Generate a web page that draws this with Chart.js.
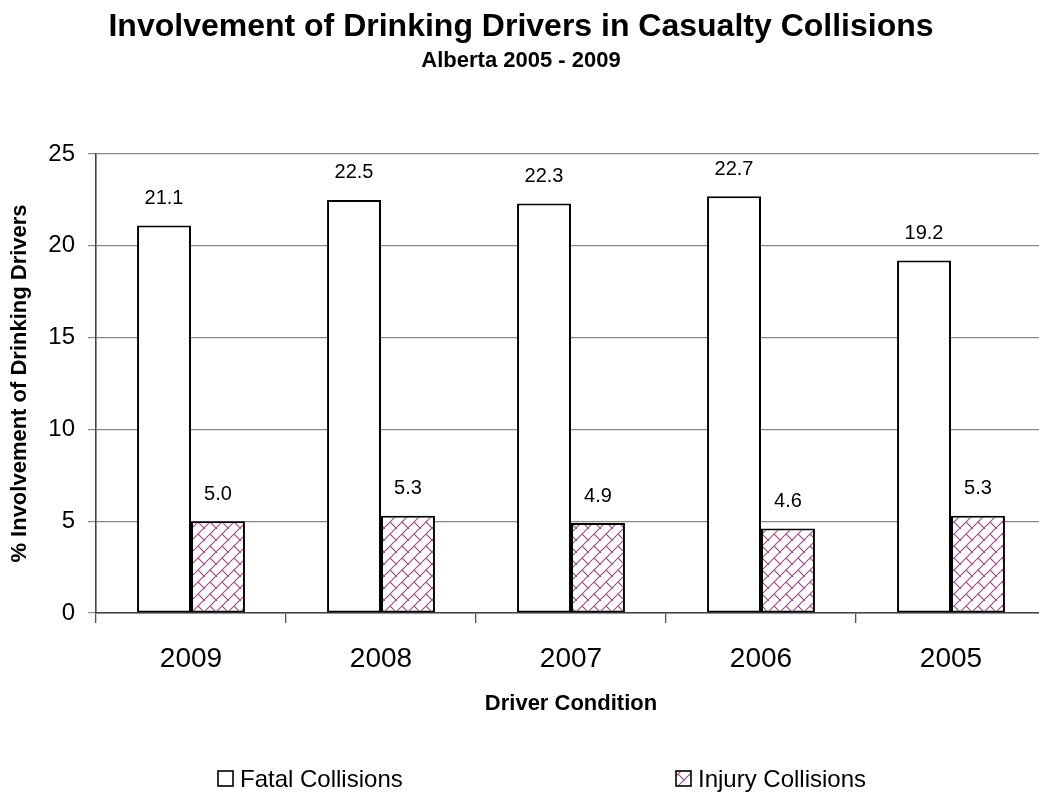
<!DOCTYPE html>
<html>
<head>
<meta charset="utf-8">
<title>Involvement of Drinking Drivers in Casualty Collisions</title>
<script src="https://cdn.jsdelivr.net/npm/chart.js@4.4.1/dist/chart.umd.min.js"></script>
<style>
  html, body { margin: 0; padding: 0; background: #fff; overflow: hidden; }
  #wrap { position: relative; width: 1060px; height: 798px; }
</style>
</head>
<body>
<div id="wrap"><canvas id="chart" width="1060" height="798"></canvas></div>
<script>
// Alberta collision data, 2005 - 2009
const years = ['2009', '2008', '2007', '2006', '2005'];
const fatalCollisions = [21.1, 22.5, 22.3, 22.7, 19.2];
const injuryCollisions = [5.0, 5.3, 4.9, 4.6, 5.3];
const seriesNames = ['Fatal Collisions', 'Injury Collisions'];
const yTicks = [0, 5, 10, 15, 20, 25];

const FONT = '"Liberation Sans", Arial, Helvetica, sans-serif';
const HATCH = '#a04a86';

// Diagonal brick hatch used for the injury series
function brickPattern() {
  const n = 12;
  const c = document.createElement('canvas');
  c.width = n; c.height = n;
  const g = c.getContext('2d');
  g.fillStyle = '#ffffff';
  g.fillRect(0, 0, n, n);
  g.strokeStyle = HATCH;
  g.lineWidth = 1.1;
  g.lineCap = 'square';
  g.beginPath();
  g.moveTo(-1, n + 1); g.lineTo(n + 1, -1);
  g.moveTo(n / 2, n / 2); g.lineTo(n + 1, n + 1);
  g.moveTo(-1, -1); g.lineTo(0.5, 0.5);
  g.stroke();
  return g.createPattern(c, 'repeat');
}

const ctx = document.getElementById('chart').getContext('2d');
const hatch = brickPattern();

// Value labels above each bar
const valueLabels = {
  id: 'valueLabels',
  afterDatasetsDraw(chart) {
    const c = chart.ctx;
    c.save();
    c.font = '20px ' + FONT;
    c.fillStyle = '#000';
    c.textAlign = 'center';
    c.textBaseline = 'middle';
    chart.data.datasets.forEach((ds, i) => {
      const meta = chart.getDatasetMeta(i);
      meta.data.forEach((bar, j) => {
        c.fillText(Number(ds.data[j]).toFixed(1), bar.x, bar.y - 27);
      });
    });
    c.restore();
  }
};

// Headings and the two-item legend
const headings = {
  id: 'headings',
  afterDraw(chart) {
    const c = chart.ctx;
    c.save();
    c.fillStyle = '#000';
    c.textAlign = 'center';
    c.textBaseline = 'alphabetic';
    c.font = 'bold 32px ' + FONT;
    c.fillText('Involvement of Drinking Drivers in Casualty Collisions', 521, 36);
    c.font = 'bold 22px ' + FONT;
    c.fillText('Alberta 2005 - 2009', 521, 67);

    const items = [
      { x: 218, fill: '#ffffff', label: seriesNames[0] },
      { x: 676, fill: hatch, label: seriesNames[1] }
    ];
    c.font = '24px ' + FONT;
    c.textAlign = 'left';
    items.forEach(it => {
      c.fillStyle = it.fill;
      c.fillRect(it.x, 771, 15, 15);
      c.strokeStyle = '#000';
      c.lineWidth = 1.6;
      c.strokeRect(it.x, 771, 15, 15);
      c.fillStyle = '#000';
      c.fillText(it.label, it.x + 22, 787);
    });
    c.restore();
  }
};

new Chart(ctx, {
  type: 'bar',
  data: {
    labels: years,
    datasets: [
      {
        label: seriesNames[0],
        data: fatalCollisions,
        backgroundColor: '#ffffff',
        borderColor: '#000000',
        borderWidth: 2,
        borderSkipped: false,
        categoryPercentage: 0.568,
        barPercentage: 1.0
      },
      {
        label: seriesNames[1],
        data: injuryCollisions,
        backgroundColor: hatch,
        borderColor: '#000000',
        borderWidth: 2,
        borderSkipped: false,
        categoryPercentage: 0.568,
        barPercentage: 1.0
      }
    ]
  },
  options: {
    responsive: false,
    animation: false,
    layout: { padding: { top: 154, right: 14, left: 0, bottom: 0 } },
    plugins: {
      legend: { display: false },
      title: { display: false },
      tooltip: { enabled: false }
    },
    scales: {
      x: {
        afterFit(scale) { scale.height = 185; },
        grid: {
          display: true,
          drawOnChartArea: false,
          drawTicks: true,
          tickLength: 10,
          color: '#555555',
          lineWidth: 1.3
        },
        border: { display: true, color: '#444444', width: 1.6 },
        ticks: {
          color: '#000',
          font: { family: FONT, size: 28 },
          padding: 19
        },
        title: {
          display: true,
          text: 'Driver Condition',
          color: '#000',
          font: { family: FONT, size: 22, weight: 'bold' },
          padding: { top: 0, bottom: 81 }
        }
      },
      y: {
        min: 0,
        max: 25,
        afterFit(scale) { scale.width = 96; },
        afterBuildTicks(scale) { scale.ticks = yTicks.map(v => ({ value: v })); },
        grid: {
          color: '#888888',
          lineWidth: 1.2,
          tickLength: 8,
          drawTicks: true
        },
        border: { display: true, color: '#444444', width: 1.6 },
        ticks: {
          color: '#000',
          font: { family: FONT, size: 24 },
          padding: 13
        },
        title: {
          display: true,
          text: '% Involvement of Drinking Drivers',
          color: '#000',
          font: { family: FONT, size: 22, weight: 'bold' },
          padding: { top: 7, bottom: 0 }
        }
      }
    }
  },
  plugins: [valueLabels, headings]
});
</script>
</body>
</html>
